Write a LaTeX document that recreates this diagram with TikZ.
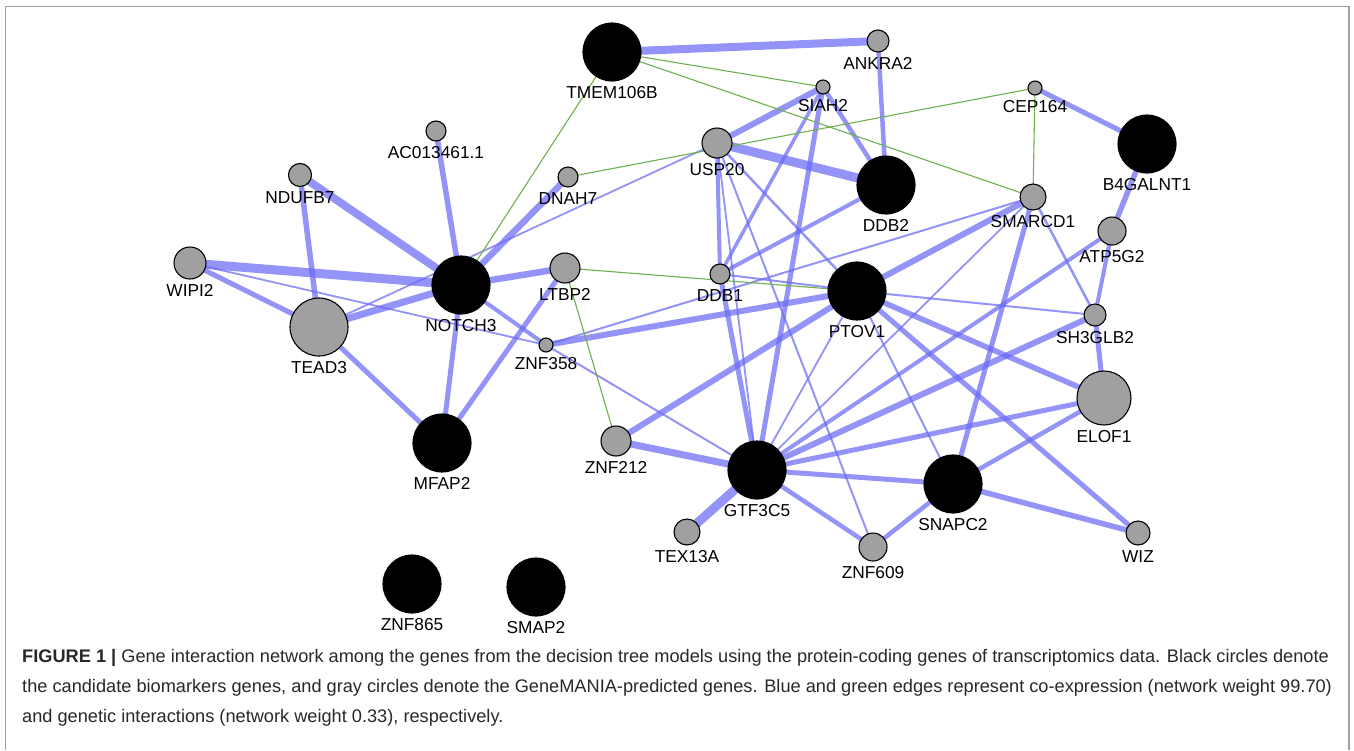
\documentclass[tikz,border=0pt]{standalone}
\usepackage{fontspec}
\setmainfont{Liberation Sans}
\usetikzlibrary{backgrounds}
\definecolor{edgeblue}{RGB}{105,105,245}
\definecolor{edgegreen}{RGB}{110,175,80}
\definecolor{nodegray}{RGB}{160,160,160}
\definecolor{framegray}{RGB}{160,160,160}
\definecolor{captext}{RGB}{40,40,40}
\begin{document}
\begin{tikzpicture}[x=1pt,y=-1pt,
  gene/.style={circle,draw=black,line width=1.1pt,inner sep=0pt,minimum size=#1},
  bk/.style={gene=#1,fill=black},
  gy/.style={gene=#1,fill=nodegray},
  every label/.style={font=\fontsize{17.3}{17}\selectfont,inner sep=0pt,text=black},
  label distance=4.5pt,
  co/.style={draw=edgeblue,opacity=0.72,line width=#1},
  ge/.style={draw=edgegreen,line width=1.1pt},
  capline/.style={anchor=base west,inner sep=0pt,text=captext,font=\fontsize{18.2}{20}\selectfont}
]
\useasboundingbox (0,0) rectangle (1354,750);
\draw[framegray,line width=1.5pt] (5.5,750) -- (5.5,6.5) -- (1349,6.5) -- (1349,750);

\node[bk=58,label=below:TMEM106B] (TMEM) at (612,52) {};
\node[gy=22,label=below:ANKRA2] (ANKRA2) at (878,41) {};
\node[gy=14,label=below:SIAH2] (SIAH2) at (823,87) {};
\node[gy=14,label=below:CEP164] (CEP164) at (1035,88) {};
\node[gy=20,label=below:AC013461.1] (AC) at (436,131) {};
\node[gy=30,label=below:USP20] (USP20) at (717,143) {};
\node[gy=20,label=below:DNAH7] (DNAH7) at (568,177) {};
\node[gy=23,label=below:NDUFB7] (NDUFB7) at (300,175) {};
\node[bk=58,label=below:DDB2] (DDB2) at (886,185) {};
\node[bk=58,label=below:B4GALNT1] (B4GALNT1) at (1147,144) {};
\node[gy=26,label=below:SMARCD1] (SMARCD1) at (1033,197) {};
\node[gy=28,label=below:ATP5G2] (ATP5G2) at (1112,231) {};
\node[gy=32,label=below:WIPI2] (WIPI2) at (190,263) {};
\node[bk=58,label=below:NOTCH3] (NOTCH3) at (461,285) {};
\node[gy=30,label=below:LTBP2] (LTBP2) at (565,268) {};
\node[gy=20,label=below:DDB1] (DDB1) at (720,274) {};
\node[bk=58,label=below:PTOV1] (PTOV1) at (857,291) {};
\node[gy=22,label=below:SH3GLB2] (SH3GLB2) at (1095,315) {};
\node[gy=58,label=below:TEAD3] (TEAD3) at (319,327) {};
\node[gy=14,label=below:ZNF358] (ZNF358) at (546,345) {};
\node[gy=54,label=below:ELOF1] (ELOF1) at (1104,398) {};
\node[bk=58,label=below:MFAP2] (MFAP2) at (442,443) {};
\node[gy=30,label=below:ZNF212] (ZNF212) at (616,441) {};
\node[bk=58,label=below:GTF3C5] (GTF3C5) at (757,470) {};
\node[bk=58,label=below:SNAPC2] (SNAPC2) at (953,484) {};
\node[gy=26,label=below:TEX13A] (TEX13A) at (687,532) {};
\node[gy=28,label=below:ZNF609] (ZNF609) at (873,547) {};
\node[gy=24,label=below:WIZ] (WIZ) at (1138,533) {};
\node[bk=58,label=below:ZNF865] (ZNF865) at (412,584) {};
\node[bk=58,label=below:SMAP2] (SMAP2) at (536,587) {};

\begin{scope}[on background layer]
% co-expression (blue)
\draw[co=8] (TMEM.center) -- (ANKRA2.center);
\draw[co=4.5] (ANKRA2.center) -- (DDB2.center);
\draw[co=6] (SIAH2.center) -- (USP20.center);
\draw[co=4.5] (SIAH2.center) -- (DDB2.center);
\draw[co=3.5] (SIAH2.center) -- (DDB1.center);
\draw[co=5] (SIAH2.center) -- (GTF3C5.center);
\draw[co=9] (USP20.center) -- (DDB2.center);
\draw[co=4] (USP20.center) -- (DDB1.center);
\draw[co=1.8] (USP20.center) -- (GTF3C5.center);
\draw[co=2] (USP20.center) -- (ZNF609.center);
\draw[co=2.5] (USP20.center) -- (PTOV1.center);
\draw[co=4] (DDB2.center) -- (DDB1.center);
\draw[co=2] (DDB1.center) -- (PTOV1.center);
\draw[co=5] (DDB1.center) -- (GTF3C5.center);
\draw[co=2] (PTOV1.center) -- (SH3GLB2.center);
\draw[co=6] (PTOV1.center) -- (SMARCD1.center);
\draw[co=6] (PTOV1.center) -- (ZNF358.center);
\draw[co=2] (ZNF358.center) -- (SMARCD1.center);
\draw[co=5] (PTOV1.center) -- (WIZ.center);
\draw[co=5.5] (PTOV1.center) -- (ELOF1.center);
\draw[co=2] (PTOV1.center) -- (SNAPC2.center);
\draw[co=1.8] (PTOV1.center) -- (GTF3C5.center);
\draw[co=6] (ZNF212.center) -- (PTOV1.center);
\draw[co=6] (GTF3C5.center) -- (SH3GLB2.center);
\draw[co=4] (GTF3C5.center) -- (ATP5G2.center);
\draw[co=1.8] (GTF3C5.center) -- (SMARCD1.center);
\draw[co=7] (GTF3C5.center) -- (ZNF212.center);
\draw[co=9] (GTF3C5.center) -- (TEX13A.center);
\draw[co=4.5] (GTF3C5.center) -- (ZNF609.center);
\draw[co=5] (GTF3C5.center) -- (SNAPC2.center);
\draw[co=5] (GTF3C5.center) -- (ELOF1.center);
\draw[co=2] (GTF3C5.center) -- (ZNF358.center);
\draw[co=5] (SNAPC2.center) -- (SMARCD1.center);
\draw[co=4.5] (SNAPC2.center) -- (ELOF1.center);
\draw[co=5.5] (SNAPC2.center) -- (WIZ.center);
\draw[co=4.5] (SNAPC2.center) -- (ZNF609.center);
\draw[co=2.5] (SMARCD1.center) -- (SH3GLB2.center);
\draw[co=4] (ATP5G2.center) -- (SH3GLB2.center);
\draw[co=5.5] (ATP5G2.center) -- (B4GALNT1.center);
\draw[co=5] (SH3GLB2.center) -- (ELOF1.center);
\draw[co=5] (CEP164.center) -- (B4GALNT1.center);
\draw[co=5.5] (NOTCH3.center) -- (AC.center);
\draw[co=8] (NOTCH3.center) -- (NDUFB7.center);
\draw[co=9] (NOTCH3.center) -- (WIPI2.center);
\draw[co=7] (NOTCH3.center) -- (TEAD3.center);
\draw[co=6.5] (NOTCH3.center) -- (DNAH7.center);
\draw[co=6.5] (NOTCH3.center) -- (LTBP2.center);
\draw[co=4] (NOTCH3.center) -- (ZNF358.center);
\draw[co=5] (NOTCH3.center) -- (MFAP2.center);
\draw[co=5.5] (TEAD3.center) -- (NDUFB7.center);
\draw[co=5] (TEAD3.center) -- (WIPI2.center);
\draw[co=5] (TEAD3.center) -- (MFAP2.center);
\draw[co=1.8] (TEAD3.center) -- (USP20.center);
\draw[co=1.8] (WIPI2.center) -- (ZNF358.center);
\draw[co=5] (LTBP2.center) -- (MFAP2.center);
% genetic interactions (green)
\draw[ge] (TMEM.center) -- (NOTCH3.center);
\draw[ge] (TMEM.center) -- (SIAH2.center);
\draw[ge] (TMEM.center) -- (SMARCD1.center);
\draw[ge] (DNAH7.center) -- (CEP164.center);
\draw[ge] (CEP164.center) -- (SMARCD1.center);
\draw[ge] (LTBP2.center) -- (PTOV1.center);
\draw[ge] (LTBP2.center) -- (ZNF212.center);
\end{scope}

\node[capline] (cap1) at (22,662) {\textbf{FIGURE 1 |} Gene interaction network among the genes from the decision tree models using the protein-coding genes of transcriptomics data. Black circles denote};
\node[capline] (cap2) at (22,692) {the candidate biomarkers genes, and gray circles denote the GeneMANIA-predicted genes. Blue and green edges represent co-expression (network weight 99.70)};
\node[capline] (cap3) at (22,722) {and genetic interactions (network weight 0.33), respectively.};
\end{tikzpicture}
\end{document}
